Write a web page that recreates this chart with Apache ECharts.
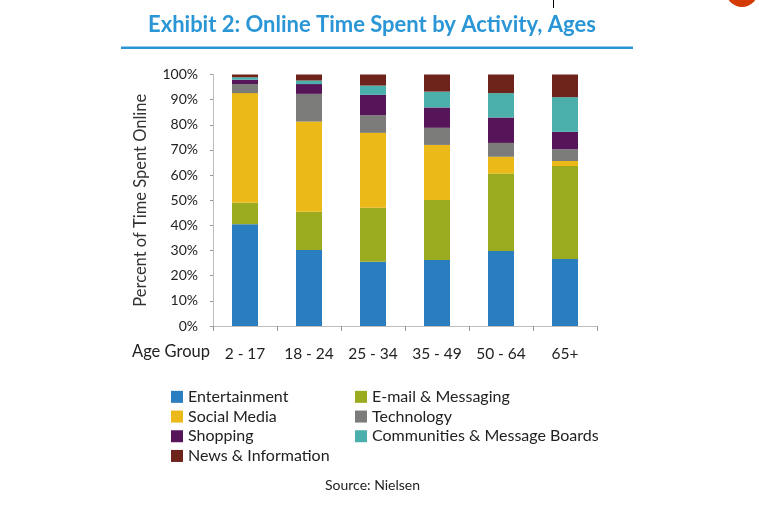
<!DOCTYPE html>
<html><head><meta charset="utf-8">
<script src="https://cdn.jsdelivr.net/npm/echarts@6/dist/echarts.min.js"></script>
<style>html,body{margin:0;padding:0;background:#fff}#c{width:759px;height:512px}</style>
</head><body><div id="c"></div>
<script>
const categories = ['2 - 17', '18 - 24', '25 - 34', '35 - 49', '50 - 64', '65+'];
const entertainment = [40.5, 30.2, 25.5, 26.2, 29.8, 26.6];
const emailMessaging = [8.5, 15.2, 21.5, 23.9, 30.8, 37.0];
const socialMedia = [43.6, 35.9, 29.8, 21.9, 6.7, 2.0];
const technology = [3.6, 11.0, 7.0, 6.8, 5.5, 4.7];
const shopping = [1.7, 3.9, 8.1, 8.1, 10.1, 6.9];
const communities = [1.0, 1.4, 3.7, 6.3, 9.7, 13.8];
const news = [1.1, 2.4, 4.4, 6.8, 7.4, 9.0];
const seriesNames = ['Entertainment', 'E-mail & Messaging', 'Social Media', 'Technology', 'Shopping', 'Communities & Message Boards', 'News & Information'];
const seriesData = [entertainment, emailMessaging, socialMedia, technology, shopping, communities, news];
const colors = ['#2a7dbf', '#9aab20', '#ebb918', '#7b7c79', '#561558', '#4bafab', '#6e241b'];

const FONT = 'Lato';
const chart = echarts.init(document.getElementById('c'), null, {renderer: 'canvas'});
const legendText = {fontFamily: FONT, fontSize: 16, color: '#222', lineHeight: 19.7};
chart.setOption({
  animation: false,
  textStyle: {fontFamily: FONT},
  grid: {left: 213, right: 162, top: 74.5, bottom: 186, containLabel: false},
  xAxis: {
    type: 'category', data: categories,
    axisLine: {lineStyle: {color: '#bdbdbd', width: 1}},
    axisTick: {show: true, length: 5, lineStyle: {color: '#9a9a9a'}},
    axisLabel: {interval: 0, hideOverlap: false, fontFamily: FONT, fontSize: 15.5, color: '#222', margin: 20}
  },
  yAxis: {
    type: 'value', min: 0, max: 100, interval: 10,
    name: 'Percent of Time Spent Online', nameLocation: 'middle', nameGap: 64,
    nameTextStyle: {fontFamily: FONT, fontSize: 16.5, color: '#333'},
    axisLine: {show: true, lineStyle: {color: '#bdbdbd', width: 1}},
    axisTick: {show: true, length: 3, lineStyle: {color: '#9a9a9a'}},
    splitLine: {show: false},
    axisLabel: {formatter: '{value}%', fontFamily: FONT, fontSize: 14, color: '#222', margin: 15}
  },
  legend: [
    {data: [seriesNames[0], seriesNames[2], seriesNames[4], seriesNames[6]], orient: 'vertical', left: 166, top: 382,
     itemWidth: 12, itemHeight: 12, itemGap: 0, textStyle: legendText, icon: 'rect', selectedMode: false},
    {data: [seriesNames[1], seriesNames[3], seriesNames[5]], orient: 'vertical', left: 350, top: 382,
     itemWidth: 12, itemHeight: 12, itemGap: 0, textStyle: legendText, icon: 'rect', selectedMode: false}
  ],
  series: seriesNames.map((n, i) => ({
    name: n, type: 'bar', stack: 'total', barWidth: 26,
    data: seriesData[i], itemStyle: {color: colors[i]}
  })),
  graphic: [
    {type: 'text', left: 148, top: 14, style: {text: 'Exhibit 2: Online Time Spent by Activity, Ages', fontFamily: FONT, fontSize: 22, fontWeight: 'bold', fill: '#2b96d6'}},
    {type: 'rect', shape: {x: 121, y: 46.5, width: 512, height: 2.5}, style: {fill: '#2b96d6'}},
    {type: 'text', left: 132, top: 343, style: {text: 'Age Group', fontFamily: FONT, fontSize: 16.5, fill: '#222'}},
    {type: 'text', left: 325, top: 478, style: {text: 'Source: Nielsen', fontFamily: FONT, fontSize: 14, fill: '#222'}},
    {type: 'line', shape: {x1: 553.5, y1: 0, x2: 553.5, y2: 8}, style: {stroke: '#000', lineWidth: 1}},
    {type: 'circle', shape: {cx: 742, cy: -9, r: 16}, style: {fill: '#d33a06'}}
  ]
});
</script></body></html>
